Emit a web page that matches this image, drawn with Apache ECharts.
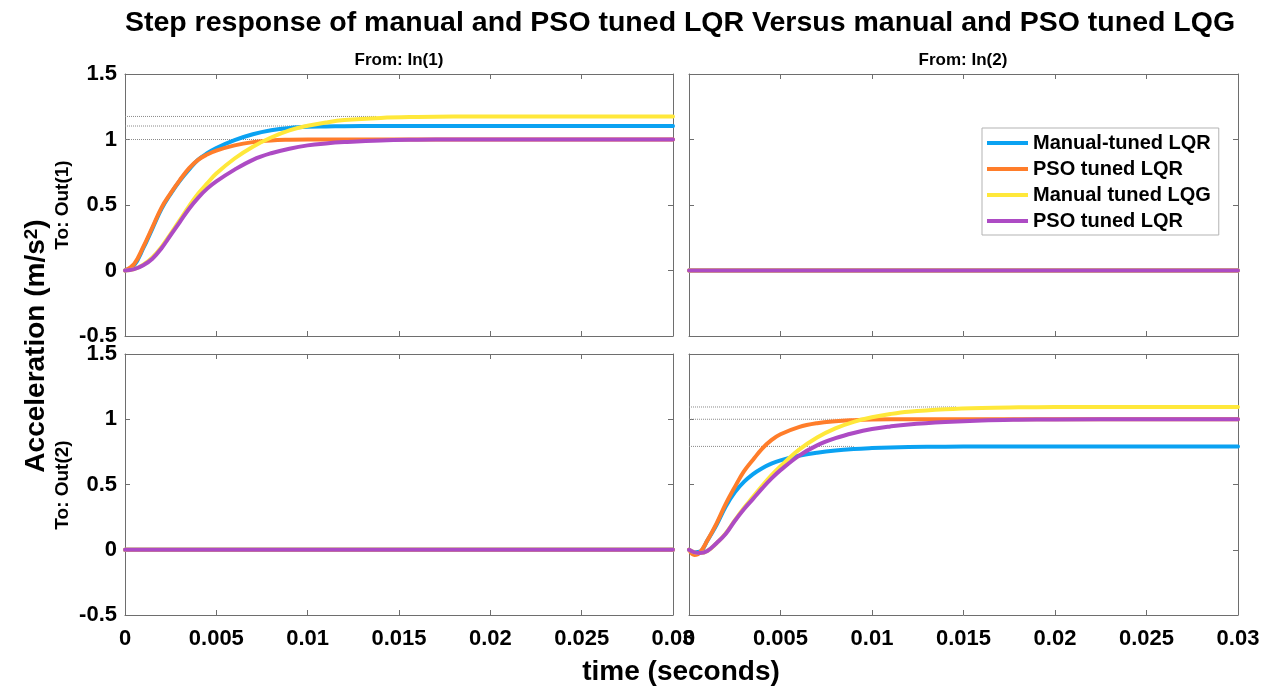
<!DOCTYPE html>
<html>
<head>
  <meta http-equiv="Content-Type" content="text/html; charset=utf-8"/>
  <title>Step response LQR vs LQG</title>
  <script src="https://cdn.jsdelivr.net/npm/echarts@6/dist/echarts.min.js"></script>
  <style>
    html, body { margin: 0; padding: 0; background: #fff; }
    #chart { width: 1270px; height: 687px; }
  </style>
</head>
<body>
<div id="chart"></div>

<script type="text/javascript">
// legend names (two curves share the label "PSO tuned LQR" in the original)
var seriesNames = ['Manual-tuned LQR', 'PSO tuned LQR', 'Manual tuned LQG', 'PSO tuned LQR '];
var seriesColors = ['#0aa2f2', '#ff7d2a', '#ffe83a', '#ad4bc4'];

// From: In(1) -> To: Out(1)
var tA = [0, 0.0005, 0.001, 0.0015, 0.002, 0.0025, 0.003, 0.0035, 0.004, 0.0045, 0.005, 0.006,
          0.007, 0.008, 0.009, 0.01, 0.011, 0.012, 0.014, 0.016, 0.018, 0.02, 0.025, 0.03];
var manualLqrA = [0, 0.04, 0.17, 0.32, 0.47, 0.585, 0.685, 0.77, 0.845, 0.895, 0.935, 0.995,
                  1.04, 1.07, 1.088, 1.097, 1.1, 1.102, 1.103, 1.103, 1.103, 1.103, 1.103, 1.103];
var psoLqrA = [0, 0.05, 0.18, 0.33, 0.48, 0.59, 0.69, 0.78, 0.845, 0.885, 0.915, 0.955,
               0.98, 0.993, 0.998, 1.0, 1.0, 1.0, 1.0, 1.0, 1.0, 1.0, 1.0, 1.0];
var manualLqgA = [0, 0.01, 0.045, 0.1, 0.18, 0.28, 0.385, 0.49, 0.585, 0.665, 0.74, 0.855,
                  0.945, 1.015, 1.07, 1.105, 1.13, 1.148, 1.165, 1.172, 1.175, 1.176, 1.176, 1.176];
var psoPurpleA = [0, 0.01, 0.04, 0.09, 0.17, 0.27, 0.37, 0.47, 0.555, 0.625, 0.68, 0.77,
                  0.845, 0.895, 0.93, 0.955, 0.97, 0.98, 0.993, 0.998, 1.0, 1.0, 1.0, 1.0];

// From: In(2) -> To: Out(2)
var tD = [0, 0.0003, 0.0006, 0.001, 0.0015, 0.002, 0.0025, 0.003, 0.0035, 0.004, 0.0045, 0.005,
          0.006, 0.007, 0.008, 0.009, 0.01, 0.011, 0.012, 0.014, 0.016, 0.018, 0.02, 0.025, 0.03];
var manualLqrD = [0, -0.02, -0.015, 0.07, 0.19, 0.33, 0.44, 0.52, 0.58, 0.625, 0.66, 0.685,
                  0.72, 0.744, 0.761, 0.772, 0.779, 0.784, 0.787, 0.79, 0.791, 0.792, 0.792, 0.792, 0.792];
var psoLqrD = [0, -0.04, -0.02, 0.07, 0.2, 0.35, 0.48, 0.6, 0.69, 0.775, 0.84, 0.885,
               0.94, 0.97, 0.985, 0.993, 0.998, 1.0, 1.0, 1.0, 1.0, 1.0, 1.0, 1.0, 1.0];
var manualLqgD = [0, -0.02, -0.025, -0.01, 0.05, 0.125, 0.225, 0.32, 0.405, 0.49, 0.57, 0.64,
                  0.765, 0.86, 0.93, 0.98, 1.015, 1.04, 1.058, 1.077, 1.087, 1.091, 1.093, 1.094, 1.094];
var psoPurpleD = [0, -0.02, -0.025, -0.01, 0.05, 0.12, 0.22, 0.31, 0.39, 0.47, 0.545, 0.61,
                  0.72, 0.8, 0.855, 0.895, 0.925, 0.945, 0.96, 0.978, 0.99, 0.996, 0.999, 1.0, 1.0];

// cross channels are flat zero
var tFlat = [0, 0.03];
var flatZero = [0, 0];

// dotted steady-state guides
var refLevelA = [1.0, 1.103, 1.176];
var refEndA = [0.0145, 0.0094, 0.0138];
var refLevelD = [1.094, 1.0, 0.792];
var refEndD = [0.0146, 0.0097, 0.009];

var FONT = '"Liberation Sans", Arial, Helvetica, sans-serif';

function pairs(t, v) {
  var out = [];
  for (var i = 0; i < t.length; i++) out.push([t[i], v[i]]);
  return out;
}

var grids = [
  {left: 125, top: 74, width: 548, height: 262},
  {left: 689, top: 74, width: 549, height: 262},
  {left: 125, top: 354, width: 548, height: 261},
  {left: 689, top: 354, width: 549, height: 261}
];

var lineCol = '#6e6e6e';
var xAxes = [], yAxes = [];
for (var g = 0; g < 4; g++) {
  var bottomRow = g >= 2, leftCol = (g % 2 === 0);
  xAxes.push({
    type: 'value', gridIndex: g, min: 0, max: 0.03, interval: 0.005,
    axisLine: {onZero: false, lineStyle: {color: lineCol, width: 1}},
    axisTick: {inside: true, length: 5, lineStyle: {color: lineCol}},
    splitLine: {show: false},
    axisLabel: {show: bottomRow, color: '#000', fontWeight: 'bold', fontSize: 22,
                fontFamily: FONT, margin: 13}
  });
  yAxes.push({
    type: 'value', gridIndex: g, min: -0.5, max: 1.5, interval: 0.5,
    axisLine: {onZero: false, lineStyle: {color: lineCol, width: 1}},
    axisTick: {inside: true, length: 5, lineStyle: {color: lineCol}},
    splitLine: {show: false},
    axisLabel: {show: leftCol, color: '#000', fontWeight: 'bold', fontSize: 22,
                fontFamily: FONT, margin: 8}
  });
}
// mirror axes for the box ticks on top and right
for (var g = 0; g < 4; g++) {
  xAxes.push({
    type: 'value', gridIndex: g, position: 'top', min: 0, max: 0.03, interval: 0.005,
    axisLine: {onZero: false, lineStyle: {color: lineCol, width: 1}},
    axisTick: {inside: true, length: 5, lineStyle: {color: lineCol}},
    splitLine: {show: false}, axisLabel: {show: false}
  });
  yAxes.push({
    type: 'value', gridIndex: g, position: 'right', min: -0.5, max: 1.5, interval: 0.5,
    axisLine: {onZero: false, lineStyle: {color: lineCol, width: 1}},
    axisTick: {inside: true, length: 5, lineStyle: {color: lineCol}},
    splitLine: {show: false}, axisLabel: {show: false}
  });
}

var series = [];
function addRefs(g, levels, ends) {
  for (var i = 0; i < levels.length; i++) {
    series.push({
      type: 'line', xAxisIndex: g, yAxisIndex: g, symbol: 'none', silent: true, z: 1,
      data: [[0, levels[i]], [ends[i], levels[i]]],
      lineStyle: {type: 'dotted', color: '#8a8a8a', width: 1}
    });
  }
}
function addCurves(g, t, sets) {
  for (var i = 0; i < sets.length; i++) {
    series.push({
      name: seriesNames[i], type: 'line', xAxisIndex: g, yAxisIndex: g,
      symbol: 'none', smooth: 0.4, z: 3 + i,
      color: seriesColors[i],
      lineStyle: {width: 4, color: seriesColors[i], cap: 'round', join: 'round'},
      data: pairs(t, sets[i])
    });
  }
}

addRefs(0, refLevelA, refEndA);
addRefs(3, refLevelD, refEndD);
addCurves(0, tA, [manualLqrA, psoLqrA, manualLqgA, psoPurpleA]);
addCurves(1, tFlat, [flatZero, flatZero, flatZero, flatZero]);
addCurves(2, tFlat, [flatZero, flatZero, flatZero, flatZero]);
addCurves(3, tD, [manualLqrD, psoLqrD, manualLqgD, psoPurpleD]);

function label(txt, x, y, size, rot) {
  return {
    type: 'text', x: x, y: y, rotation: rot || 0, silent: true,
    style: {
      text: txt, font: 'bold ' + size + 'px ' + FONT, fill: '#000',
      align: 'center', verticalAlign: 'middle',
      textAlign: 'center', textVerticalAlign: 'middle'
    }
  };
}

var yTitle = {
  type: 'text', x: 36, y: 346, rotation: Math.PI / 2, silent: true,
  style: {
    text: '{a|Acceleration (m/s}{b|2}{a|)}',
    align: 'center', verticalAlign: 'middle',
    textAlign: 'center', textVerticalAlign: 'middle',
    fill: '#000',
    rich: {
      a: {font: 'bold 28px ' + FONT, fill: '#000'},
      b: {font: 'bold 19px ' + FONT, fill: '#000', verticalAlign: 'top'}
    }
  }
};

var chart = echarts.init(document.getElementById('chart'), null, {renderer: 'canvas'});
chart.setOption({
  animation: false,
  backgroundColor: '#fff',
  grid: grids,
  xAxis: xAxes,
  yAxis: yAxes,
  legend: {
    data: seriesNames, orient: 'vertical', left: 982, top: 128,
    icon: 'rect', itemWidth: 41, itemHeight: 4, itemGap: 6,
    padding: [5, 8, 4, 5], selectedMode: false,
    borderColor: '#b3b3b3', borderWidth: 1, backgroundColor: '#fff',
    textStyle: {color: '#000', fontWeight: 'bold', fontSize: 20, fontFamily: FONT}
  },
  graphic: [
    label('Step response of manual and PSO tuned LQR Versus manual and PSO tuned LQG', 680, 23, 28.5),
    label('From: In(1)', 399, 60, 17),
    label('From: In(2)', 963, 60, 17),
    label('To: Out(1)', 63, 205, 19, Math.PI / 2),
    label('To: Out(2)', 63, 485, 19, Math.PI / 2),
    label('time (seconds)', 681, 672, 28),
    yTitle
  ],
  series: series
});
</script>
</body>
</html>
